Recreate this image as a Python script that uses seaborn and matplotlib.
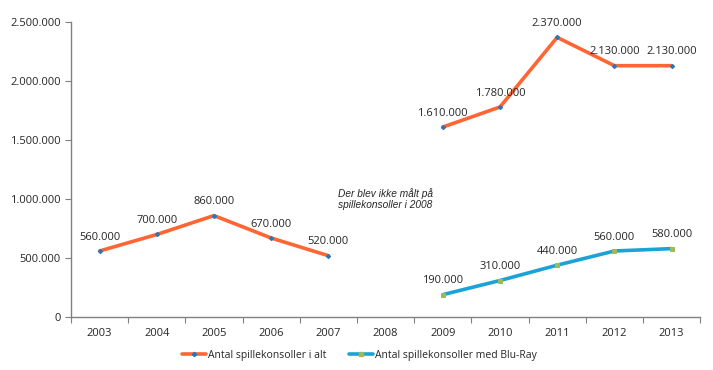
import pandas as pd
import numpy as np
import matplotlib.pyplot as plt
import seaborn as sns
from matplotlib.ticker import FuncFormatter, FixedLocator
from matplotlib.lines import Line2D

# Data
years = ["2003", "2004", "2005", "2006", "2007", "2008", "2009", "2010", "2011", "2012", "2013"]
total = [560000, 700000, 860000, 670000, 520000, np.nan, 1610000, 1780000, 2370000, 2130000, 2130000]
bluray = [np.nan, np.nan, np.nan, np.nan, np.nan, np.nan, 190000, 310000, 440000, 560000, 580000]
total_name = "Antal spillekonsoller i alt"
bluray_name = "Antal spillekonsoller med Blu-Ray"
note = "Der blev ikke målt på\nspillekonsoller i 2008"

orange = "#FF6633"
blue = "#1AA3D6"

sns.set_style("white")
plt.rcParams['font.family'] = ['Open Sans', 'DejaVu Sans']

df = pd.DataFrame({"x": np.arange(len(years)), "total": total, "bluray": bluray})
# split into segments so the gap at 2008 stays open
df["seg"] = (df["x"] > 5).astype(int)

fig = plt.figure(figsize=(7.13, 3.70), dpi=100)
ax = fig.add_axes([0.0996, 0.143, 0.8824, 0.7975])

sns.lineplot(data=df.dropna(subset=["total"]), x="x", y="total", units="seg", estimator=None,
             color=orange, linewidth=2.6, marker="D", markersize=2.2,
             markerfacecolor="#2E75B6", markeredgecolor="#2E75B6", ax=ax, legend=False)
sns.lineplot(data=df.dropna(subset=["bluray"]), x="x", y="bluray", units="seg", estimator=None,
             color=blue, linewidth=2.6, marker="s", markersize=2.2,
             markerfacecolor="#9BBB59", markeredgecolor="#9BBB59", ax=ax, legend=False)

# data labels
for col in ["total", "bluray"]:
    for xi, v in zip(df["x"], df[col]):
        if not np.isnan(v):
            ax.annotate(f"{int(v):,}".replace(",", "."), (xi, v), xytext=(0, 6),
                        textcoords="offset points", ha="center", va="bottom", fontsize=8)

ax.text(4.17, 1000000, note, fontsize=7.3, style="italic", ha="left", va="center",
        family=["Liberation Sans", "DejaVu Sans"])

ax.set_xlim(-0.5, len(years) - 0.5)
ax.set_ylim(0, 2500000)
ax.set_yticks(np.arange(0, 2500001, 500000))
ax.yaxis.set_major_formatter(FuncFormatter(lambda v, p: f"{int(v):,}".replace(",", ".")))
ax.xaxis.set_major_locator(FixedLocator(np.arange(-0.5, len(years), 1)))
ax.set_xticklabels([])
ax.xaxis.set_minor_locator(FixedLocator(np.arange(len(years))))
ax.set_xticklabels(years, minor=True)
ax.tick_params(axis="x", which="minor", length=0, pad=8, labelsize=8)
ax.tick_params(axis="x", which="major", direction="out", length=4, color="#808080", bottom=True)
ax.tick_params(axis="y", direction="out", length=4, color="#808080", labelsize=8, left=True)
ax.set_xlabel("")
ax.set_ylabel("")

for s in ["top", "right"]:
    ax.spines[s].set_visible(False)
for s in ["left", "bottom"]:
    ax.spines[s].set_color("#808080")
    ax.spines[s].set_linewidth(1)

handles = [
    Line2D([], [], color=orange, linewidth=2.6, marker="D", markersize=2.2,
           markerfacecolor="#2E75B6", markeredgecolor="#2E75B6"),
    Line2D([], [], color=blue, linewidth=2.6, marker="s", markersize=2.2,
           markerfacecolor="#9BBB59", markeredgecolor="#9BBB59"),
]
fig.legend(handles, [total_name, bluray_name], loc="center", bbox_to_anchor=(0.504, 0.04), ncol=2,
           frameon=False, fontsize=7.5, handlelength=2.3, handletextpad=0.15, columnspacing=2.2)

plt.savefig("out.png", dpi=100)
